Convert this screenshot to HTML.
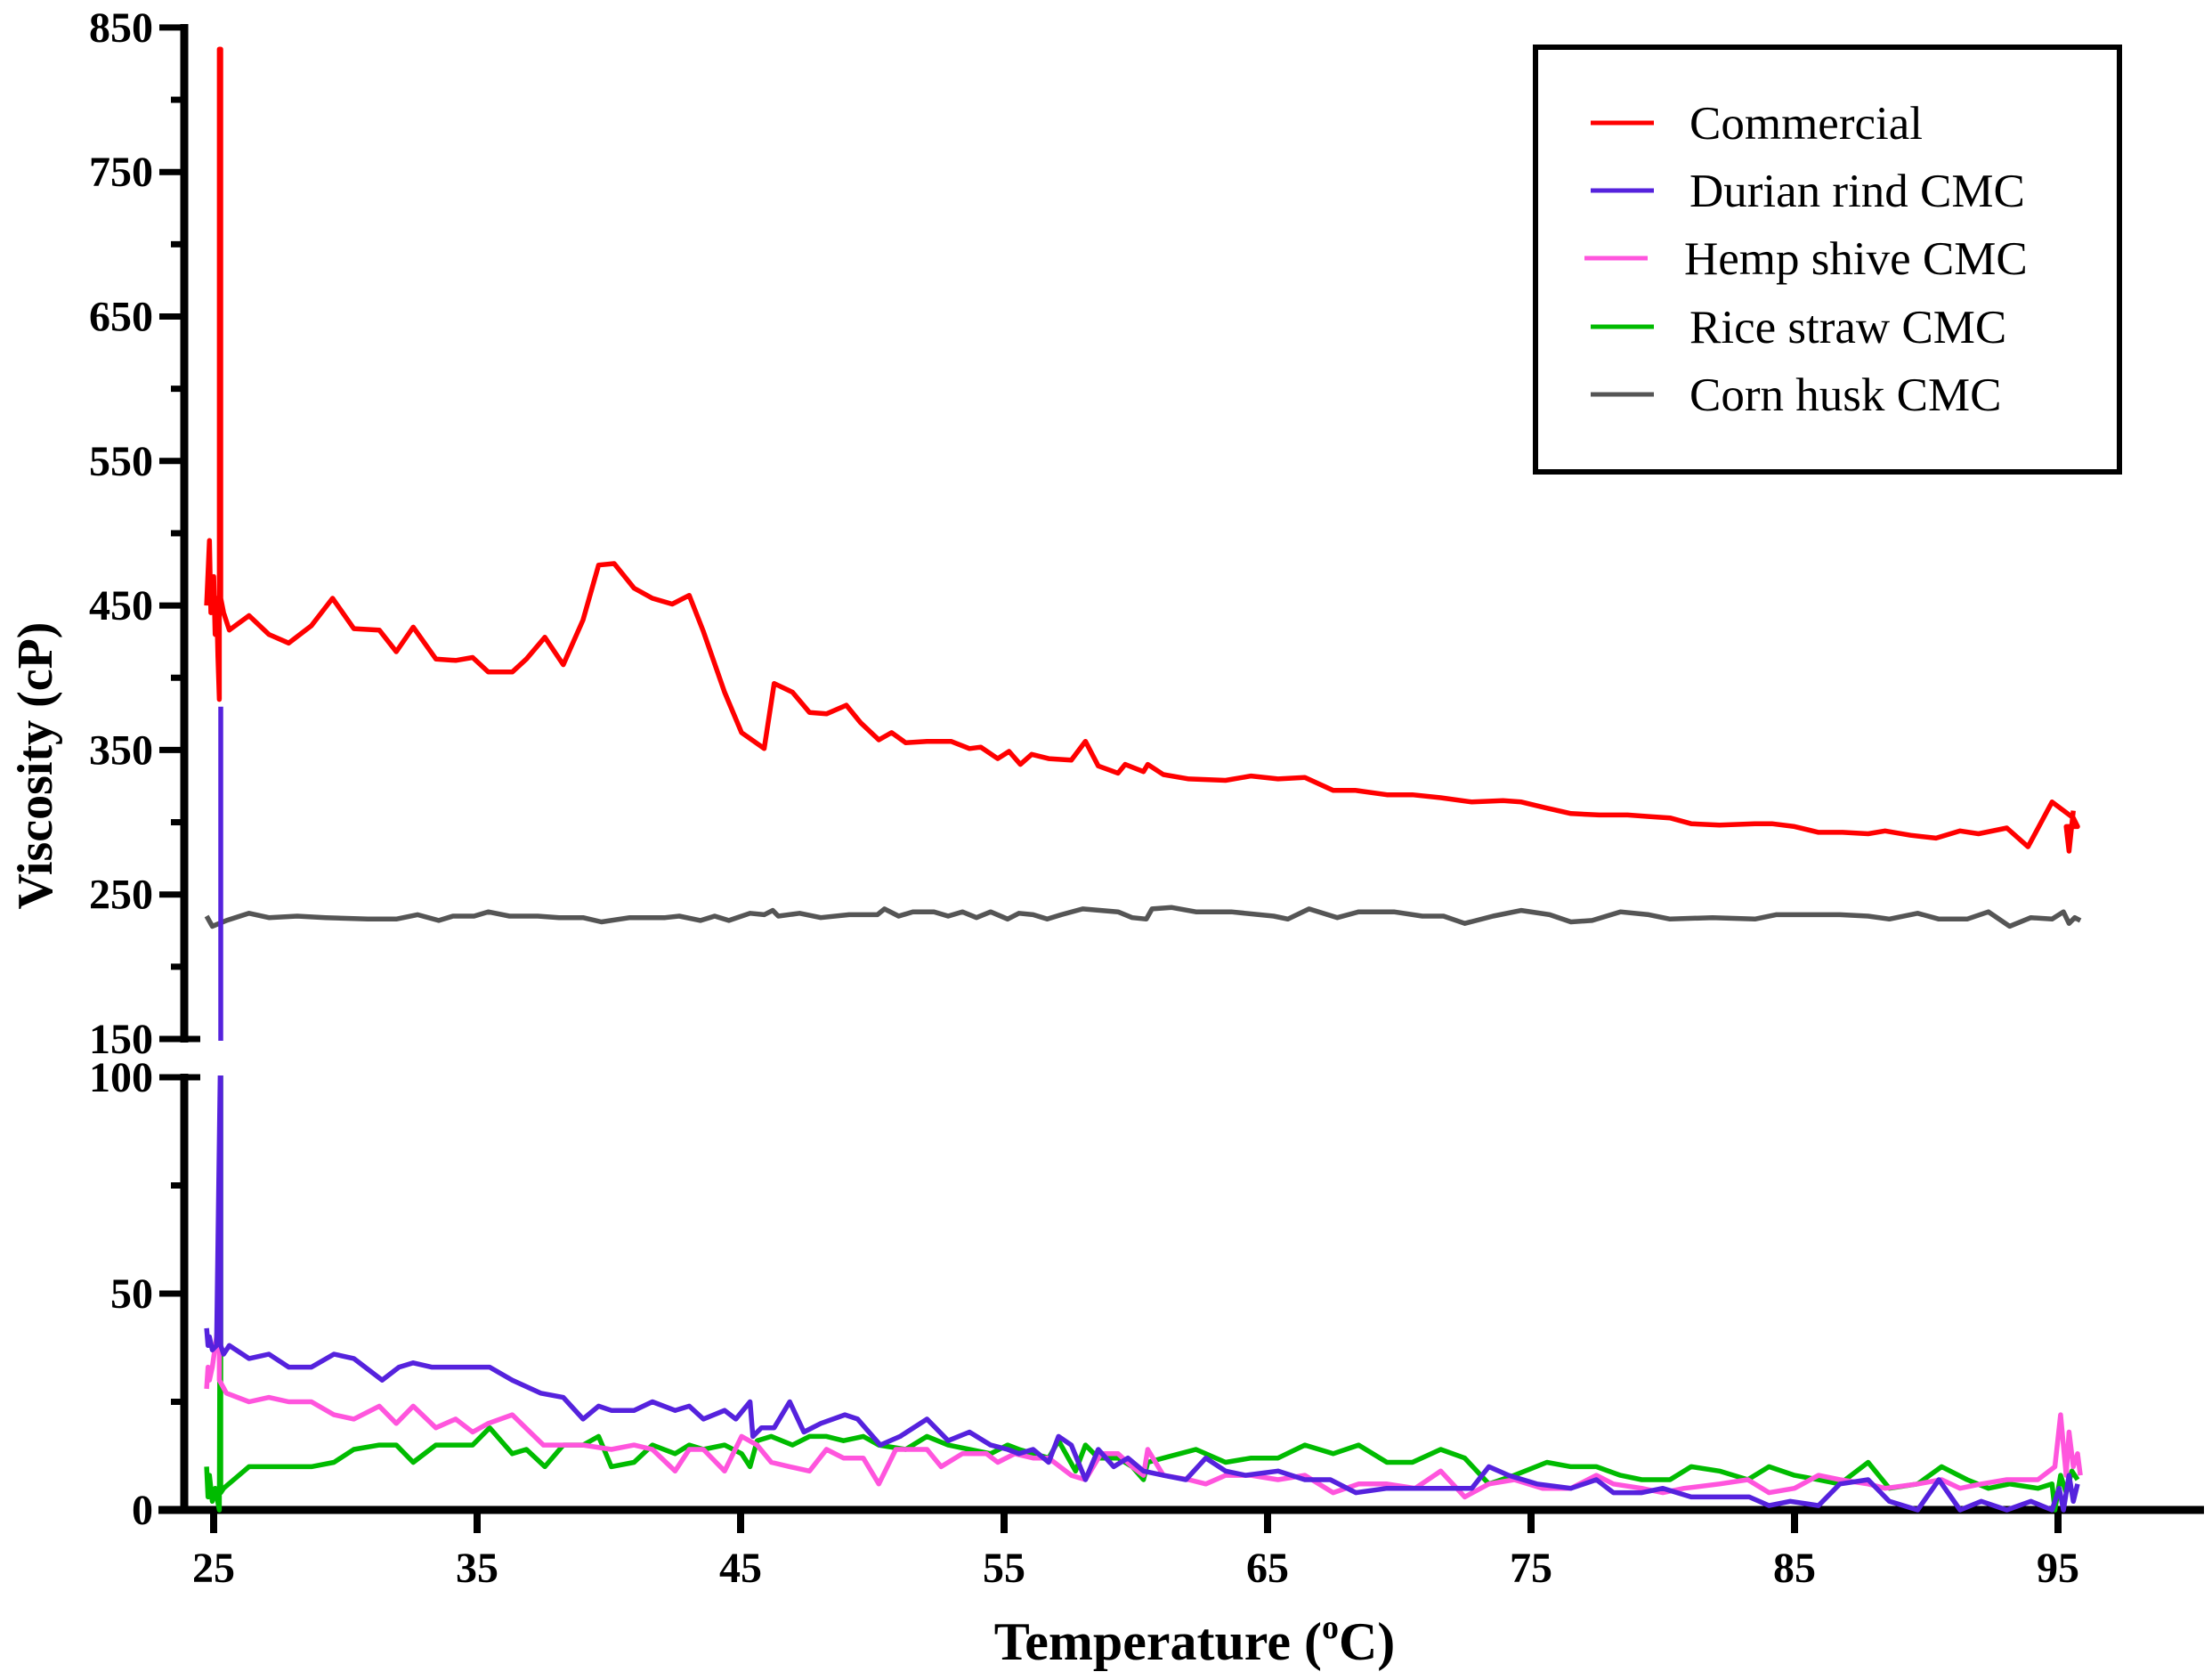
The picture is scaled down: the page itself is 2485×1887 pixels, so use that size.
<!DOCTYPE html>
<html><head><meta charset="utf-8"><style>
html,body{margin:0;padding:0;background:#fff;}
svg{display:block;}
text{font-family:"Liberation Serif",serif;}
</style></head><body>
<svg id="s" width="2485" height="1887" xmlns="http://www.w3.org/2000/svg">
<defs>
<clipPath id="cu"><rect x="0" y="0" width="2485" height="1169"/></clipPath>
<clipPath id="cl"><rect x="0" y="1208" width="2485" height="500"/></clipPath>
</defs>
<g id="axes" stroke="#000" fill="none"></g>
<g id="series" fill="none" stroke-width="5.5" stroke-linejoin="round"></g>
<g id="labels"></g>
<text x="58" y="860" font-size="56" font-weight="bold" text-anchor="middle" transform="rotate(-90 58 860)">Viscosity (cP)</text>
<text x="1342" y="1864" font-size="60" font-weight="bold" text-anchor="middle">Temperature (<tspan font-size="38" dy="-24">o</tspan><tspan dy="24">C)</tspan></text>
<rect x="1725" y="53" width="656" height="477" fill="none" stroke="#000" stroke-width="6"/>
<g font-size="53">
<line x1="1787" y1="138" x2="1858" y2="138" stroke="#ff0000" stroke-width="5"/><text x="1898" y="156">Commercial</text>
<line x1="1787" y1="214" x2="1858" y2="214" stroke="#5522dd" stroke-width="5"/><text x="1898" y="232">Durian rind CMC</text>
<line x1="1780" y1="290" x2="1851" y2="290" stroke="#ff55dd" stroke-width="5"/><text x="1892" y="308">Hemp shive CMC</text>
<line x1="1787" y1="367" x2="1858" y2="367" stroke="#00bb00" stroke-width="5"/><text x="1898" y="385">Rice straw CMC</text>
<line x1="1787" y1="443" x2="1858" y2="443" stroke="#555555" stroke-width="5"/><text x="1898" y="461">Corn husk CMC</text>
</g>
</svg>
<script>
var NS="http://www.w3.org/2000/svg";
function el(p,t,a,txt){var e=document.createElementNS(NS,t);for(var k in a)e.setAttribute(k,a[k]);if(txt!=null)e.textContent=txt;document.getElementById(p).appendChild(e);return e;}
function yu(v){return 1167-(v-150)*1.623;}
function yl(v){return 1696-v*4.86;}
function xt(t){return 240+(t-25)*29.6;}
var AX=207;
el("axes","line",{x1:AX,y1:27,x2:AX,y2:1171,"stroke-width":9});
el("axes","line",{x1:AX,y1:1206,x2:AX,y2:1700,"stroke-width":9});
el("axes","line",{x1:178,y1:1696,x2:2476,y2:1696,"stroke-width":9});
for(var v=150;v<=850;v+=50){var maj=(v%100==50);var y=yu(v);
 el("axes","line",{x1:maj?179:192,y1:y,x2:(v==150?225:AX),y2:y,"stroke-width":7});
 if(maj)el("labels","text",{x:172,y:y+16,"font-size":48,"font-weight":"bold","text-anchor":"end"},String(v));}
[0,25,50,75,100].forEach(function(v){var maj=(v%50==0);var y=yl(v);
 el("axes","line",{x1:maj?179:192,y1:y,x2:(v==100?225:AX),y2:y,"stroke-width":7});
 if(maj)el("labels","text",{x:172,y:y+16,"font-size":48,"font-weight":"bold","text-anchor":"end"},String(v));});
for(var t=25;t<=95;t+=10){var x=xt(t);
 el("axes","line",{x1:x,y1:1696,x2:x,y2:1722,"stroke-width":8});
 el("labels","text",{x:x,y:1777,"font-size":48,"font-weight":"bold","text-anchor":"middle"},String(t));}
var S=2485/1563;
function poly(d,col,upper){var pts=[];for(var i=0;i<d.length;i+=2){pts.push((d[i]*S).toFixed(1)+","+(upper?yu(d[i+1]):yl(d[i+1])).toFixed(1));}
 el("series","polyline",{points:pts.join(" "),stroke:col,"clip-path":upper?"url(#cu)":"url(#cl)"});}
var corn=[146,235,150,228,155,230,160,232,176,237,190,234,210,235,230,234,260,233,280,233,295,236,310,232,320,235,335,235,345,238,360,235,380,235,395,234,412,234,425,231,445,234,470,234,480,235,495,232,505,235,515,232,530,237,540,236,546,239,550,235,565,237,580,234,600,236,620,236,625,240,635,235,645,238,660,238,670,235,680,238,690,234,700,238,712,233,720,237,730,236,740,233,750,236,765,240,790,238,800,234,810,233,814,240,828,241,845,238,870,238,900,235,910,233,925,240,945,234,960,238,985,238,1005,235,1020,235,1035,230,1055,235,1075,239,1095,236,1110,231,1125,232,1145,238,1165,236,1180,233,1210,234,1240,233,1255,236,1300,236,1320,235,1335,233,1355,237,1370,233,1390,233,1405,238,1420,228,1435,234,1450,233,1458,238,1462,230,1466,234,1470,232];
var com=[146,450,148,495,149,445,151,470,152,430,153,455,154,415,155,385,155,835,156,835,156,455,158,445,162,433,176,443,190,430,204,424,220,436,235,455,250,434,268,433,280,418,292,435,308,413,322,412,334,414,345,404,362,404,372,413,385,428,398,409,412,440,423,478,434,479,448,462,461,455,475,451,487,457,497,432,512,390,524,362,540,351,547,396,560,390,572,376,584,375,598,381,608,369,621,357,630,362,640,355,655,356,672,356,685,351,693,352,705,344,713,349,721,340,729,347,741,344,757,343,767,356,776,339,790,334,795,340,808,335,811,340,822,333,840,330,866,329,884,332,903,330,922,331,942,322,958,322,980,319,998,319,1018,317,1040,314,1062,315,1075,314,1092,310,1110,306,1130,305,1150,305,1165,304,1180,303,1195,299,1215,298,1240,299,1252,299,1268,297,1285,293,1302,293,1320,292,1332,294,1350,291,1368,289,1385,294,1398,292,1418,296,1433,283,1450,314,1465,303,1468,297,1460,297,1462,280,1465,308];
var durU=[156,380,156,140];
var dur=[146,42,147,38,148,40,150,37,153,38,156,110,156,38,158,36,162,38,176,35,190,36,204,33,220,33,236,36,250,35,270,30,282,33,292,34,305,33,330,33,346,33,362,30,382,27,398,26,412,21,423,24,432,23,448,23,461,25,477,23,487,24,497,21,512,23,520,21,530,25,532,17,538,19,547,19,558,25,568,18,580,20,597,22,606,21,622,15,636,17,655,21,670,16,685,18,700,15,712,14,720,13,730,14,741,11,748,17,757,15,767,7,776,14,787,10,797,12,808,9,822,8,838,7,852,12,866,9,880,8,903,9,922,7,940,7,958,4,980,5,1000,5,1040,5,1052,10,1066,8,1086,6,1110,5,1128,7,1140,4,1160,4,1175,5,1195,3,1220,3,1236,3,1250,1,1265,2,1285,1,1300,6,1320,7,1335,2,1355,0,1370,7,1385,0,1400,2,1418,0,1435,2,1450,0,1455,5,1458,0,1462,8,1465,2,1468,6];
var hemp=[146,28,147,33,148,30,150,33,153,40,155,47,155,30,160,27,176,25,190,26,204,25,220,25,236,22,250,21,268,24,280,20,292,24,308,19,322,21,334,18,345,20,362,22,384,15,398,15,412,15,432,14,448,15,461,14,477,9,487,14,497,14,512,9,524,17,535,15,545,11,558,10,572,9,584,14,596,12,610,12,621,6,633,14,655,14,665,10,680,13,697,13,705,11,717,13,730,12,741,12,757,8,767,7,778,13,790,13,800,10,808,8,811,14,822,8,840,7,852,6,866,8,884,8,903,7,922,8,942,4,960,6,980,6,1000,5,1018,9,1035,3,1052,6,1070,7,1090,5,1110,5,1128,8,1140,6,1160,5,1175,4,1190,5,1215,6,1235,7,1250,4,1268,5,1285,8,1300,7,1320,6,1332,5,1355,6,1372,7,1385,5,1400,6,1418,7,1440,7,1452,10,1456,22,1460,8,1462,18,1465,10,1468,13,1470,8];
var green=[146,10,147,3,148,8,150,2,152,5,155,0,156,110,156,90,156,4,158,5,176,10,204,10,220,10,236,11,250,14,268,15,280,15,292,11,308,15,334,15,346,19,362,13,372,14,385,10,398,15,412,15,423,17,432,10,448,11,461,15,477,13,487,15,497,14,512,15,524,13,530,10,535,16,545,17,560,15,572,17,584,17,596,16,610,17,621,15,640,14,655,17,670,15,685,14,700,13,712,15,720,14,741,12,748,16,760,9,767,15,776,12,790,12,800,10,808,7,811,11,822,12,845,14,866,11,884,12,903,12,922,15,942,13,960,15,980,11,998,11,1018,14,1035,12,1052,6,1070,8,1093,11,1110,10,1128,10,1145,8,1160,7,1180,7,1195,10,1215,9,1235,7,1250,10,1268,8,1285,7,1300,6,1320,11,1335,5,1355,6,1372,10,1390,7,1405,5,1420,6,1440,5,1450,6,1452,0,1456,8,1460,4,1464,9,1468,7];
poly(corn,"#555555",true);
poly(durU,"#5522dd",true);
poly(com,"#ff0000",true);
poly(green,"#00bb00",false);
poly(hemp,"#ff55dd",false);
poly(dur,"#5522dd",false);
</script>
</body></html>
